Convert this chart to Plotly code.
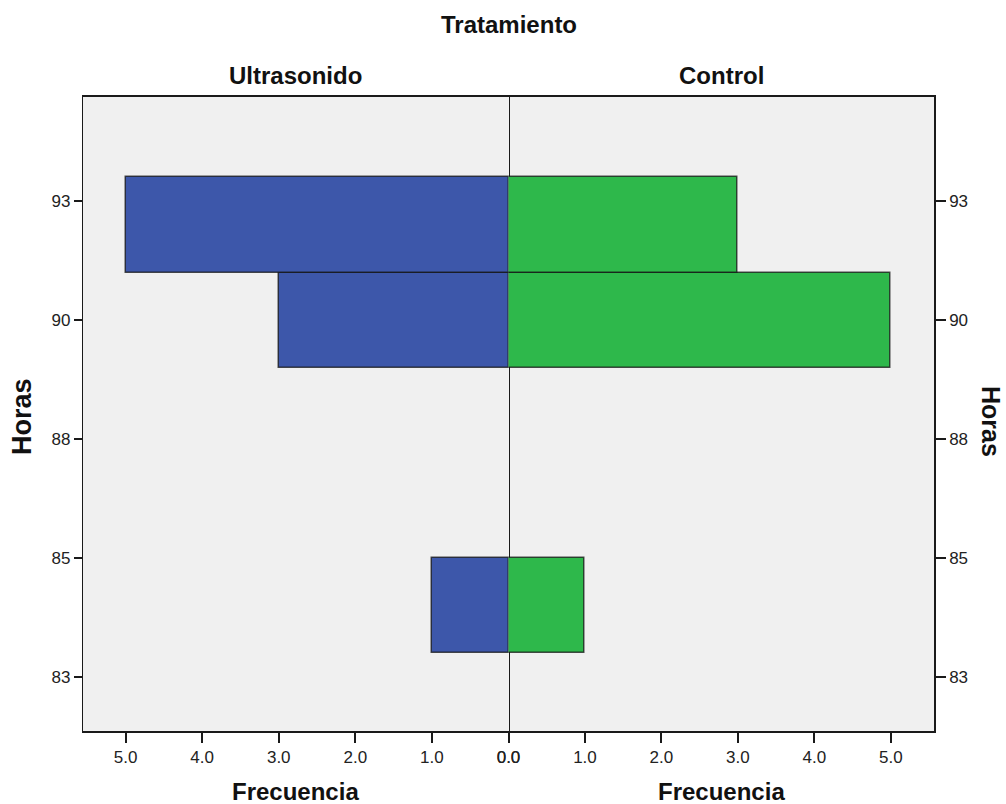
import plotly.graph_objects as go

# Data
bin_centers = [84, 86, 88, 90, 92]          # Horas bins of width 2 (83-85, ..., 91-93)
ultrasonido = [1, 0, 0, 3, 5]
control = [1, 0, 0, 5, 3]
ytick_vals = [82.5, 85, 87.5, 90, 92.5]
ytick_text = ["83", "85", "88", "90", "93"]
xtick_vals = [0, 1, 2, 3, 4, 5]

W, H = 1006, 804
ML, MR, MT, MB = 83, 72, 97, 73
PW, PH = W - ML - MR, H - MT - MB
split = (508.5 - ML) / PW

def px(x):
    return (x - ML) / PW

def py(y):
    return (H - MB - y) / PH

BLUE = "#3D57AA"
GREEN = "#2EB84B"
EDGE = "rgba(20,20,20,0.75)"
FONT = "Liberation Sans, Arial, sans-serif"

def edge_widths(vals):
    return [1.5 if v > 0 else 0 for v in vals]

fig = go.Figure()
fig.add_trace(go.Bar(
    y=bin_centers, x=ultrasonido, orientation="h", width=2,
    marker=dict(color=BLUE, line=dict(color=EDGE, width=edge_widths(ultrasonido))),
    xaxis="x", yaxis="y", showlegend=False, name="Ultrasonido"))
fig.add_trace(go.Bar(
    y=bin_centers, x=control, orientation="h", width=2,
    marker=dict(color=GREEN, line=dict(color=EDGE, width=edge_widths(control))),
    xaxis="x2", yaxis="y2", showlegend=False, name="Control"))

yrange = [81.36, 94.69]
axis_common = dict(showgrid=False, zeroline=False, showline=True, linecolor="#1a1a1a",
                   linewidth=1.5, ticks="outside", tickcolor="#1a1a1a",
                   tickwidth=1.5, tickfont=dict(family=FONT, size=17, color="#222"))

fig.update_layout(
    width=W, height=H,
    margin=dict(l=ML, r=MR, t=MT, b=MB),
    paper_bgcolor="white", plot_bgcolor="#F0F0F0",
    bargap=0,
    xaxis=dict(domain=[0, split], range=[5.556, 0], tickvals=xtick_vals,
               tickformat=".1f", ticklen=10, anchor="y", mirror=True, **axis_common),
    xaxis2=dict(domain=[split, 1], range=[0, 5.565], tickvals=xtick_vals,
                tickformat=".1f", ticklen=10, anchor="y2", mirror=True, **axis_common),
    yaxis=dict(range=yrange, tickvals=ytick_vals, ticktext=ytick_text,
               ticklen=8, anchor="x", side="left", mirror=True, **axis_common),
    yaxis2=dict(range=yrange, tickvals=ytick_vals, ticktext=ytick_text,
                ticklen=10, anchor="x2", side="right", mirror=False, **axis_common),
)
fig.layout.yaxis.linewidth = 1.2

bold = dict(family=FONT, color="#111")
ann = [
    dict(text="<b>Tratamiento</b>", x=px(509), y=py(24.7), size=24),
    dict(text="<b>Ultrasonido</b>", x=px(295.5), y=py(75), size=24),
    dict(text="<b>Control</b>", x=px(721), y=py(75), size=24),
    dict(text="<b>Frecuencia</b>", x=px(295.5), y=py(791), size=24),
    dict(text="<b>Frecuencia</b>", x=px(721), y=py(791), size=24),
]
for a in ann:
    fig.add_annotation(text=a["text"], x=a["x"], y=a["y"], xref="paper", yref="paper",
                       xanchor="center", yanchor="middle", showarrow=False,
                       font=dict(size=a["size"], **bold))
fig.add_annotation(text="<b>Horas</b>", x=px(22), y=py(417), xref="paper", yref="paper",
                   xanchor="center", yanchor="middle", showarrow=False, textangle=-90,
                   font=dict(size=27, **bold))
fig.add_annotation(text="<b>Horas</b>", x=px(991), y=py(421), xref="paper", yref="paper",
                   xanchor="center", yanchor="middle", showarrow=False, textangle=90,
                   font=dict(size=25, **bold))

fig.write_html("out.html", config={"displayModeBar": False},
               post_script="document.body.style.margin='0';document.body.style.overflow='hidden';")
